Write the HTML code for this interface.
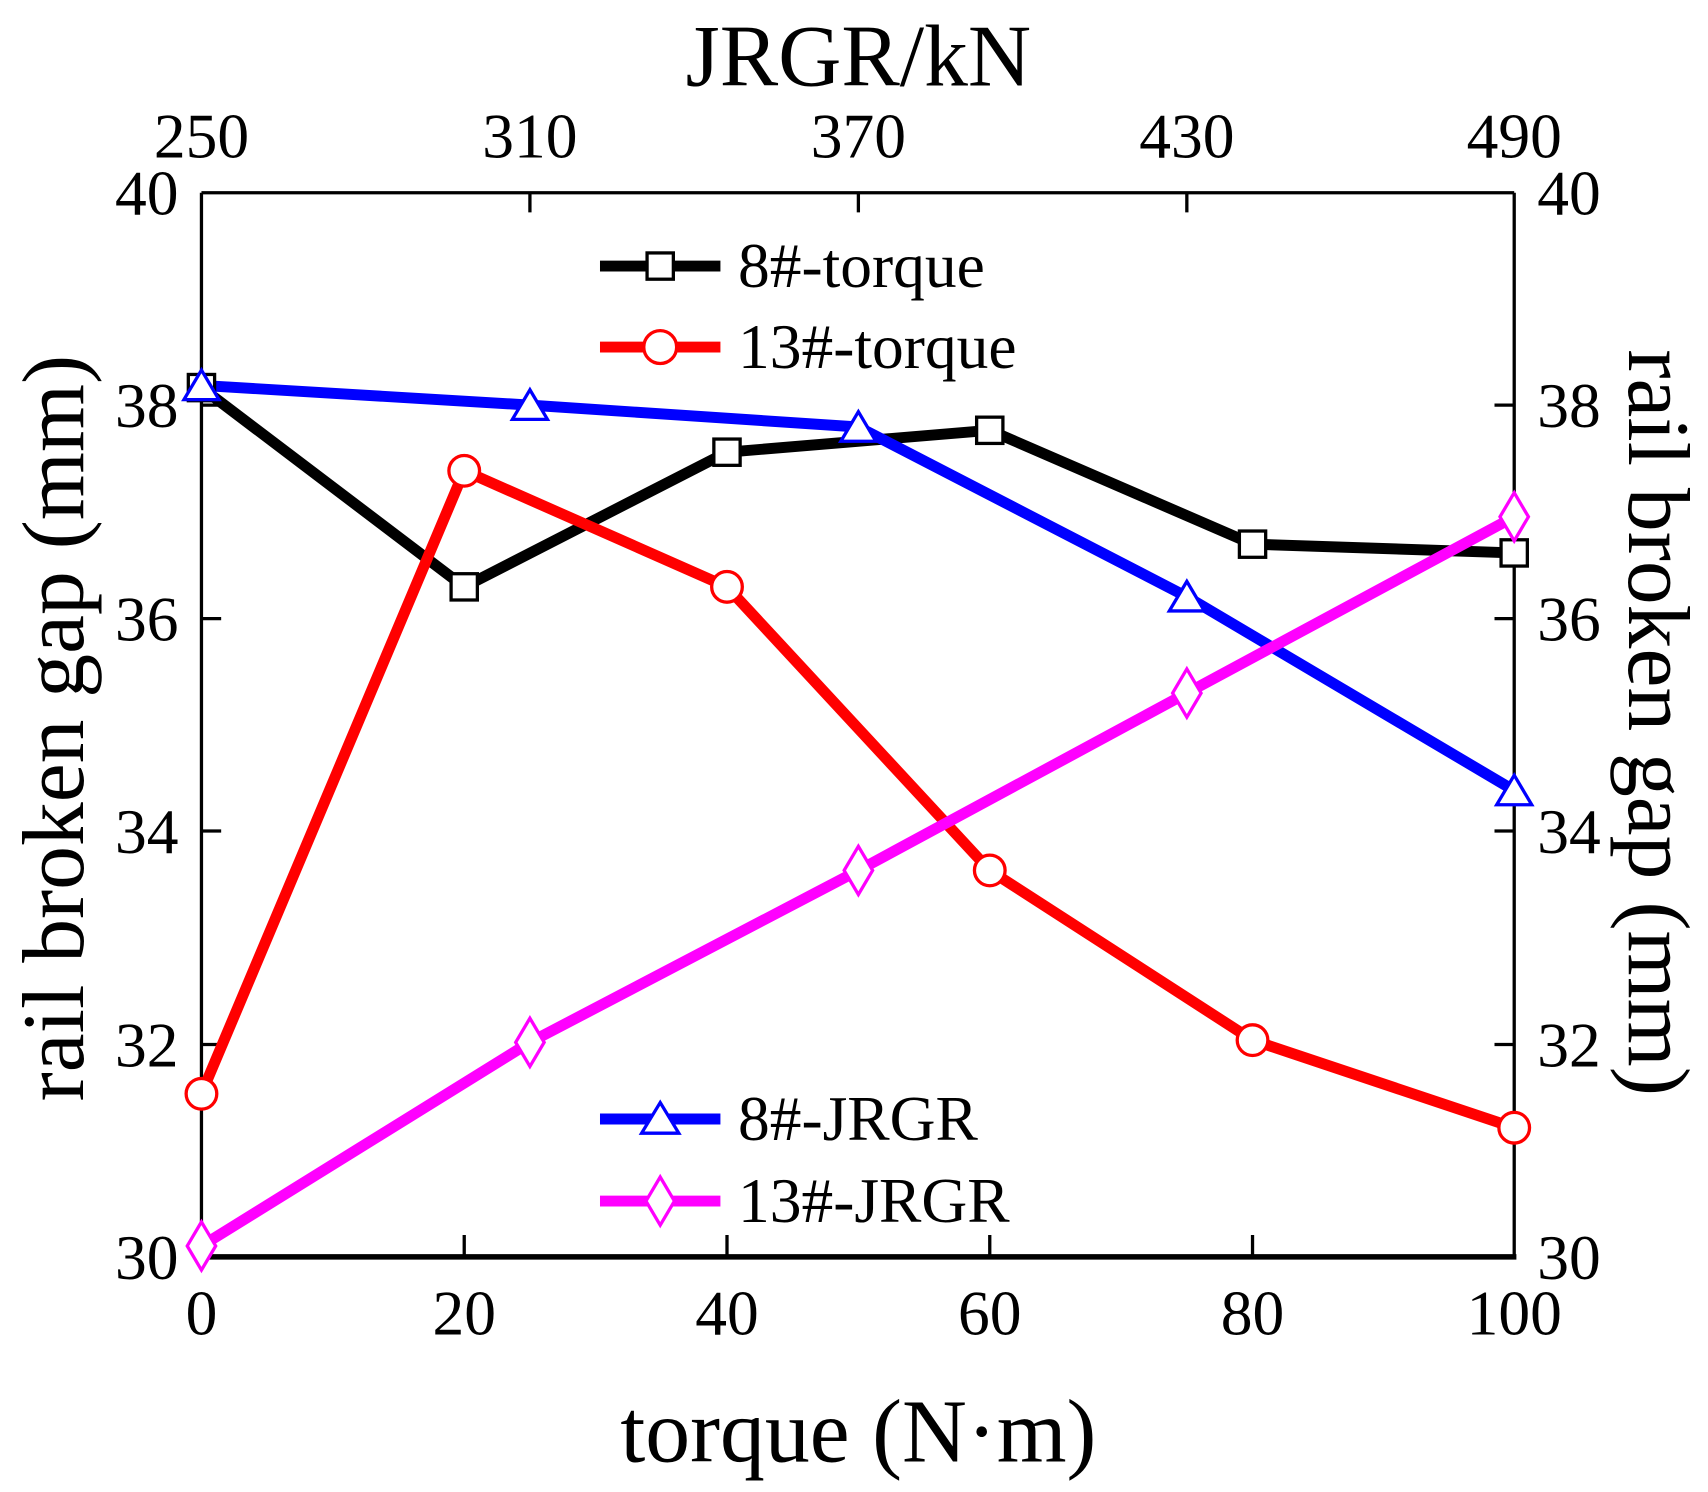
<!DOCTYPE html>
<html><head><meta charset="utf-8"><style>
html,body{margin:0;padding:0;background:#fff;}
svg{display:block;}
text{font-family:"Liberation Serif",serif;fill:#000;}
</style></head><body>
<svg width="1708" height="1492" viewBox="0 0 1560 1362.7" xmlns="http://www.w3.org/2000/svg">
<rect width="1560" height="1363" fill="#fff"/>
<g stroke="#000" fill="none">
<line x1="184" y1="176" x2="1383" y2="176" stroke-width="3"/>
<line x1="184" y1="176" x2="184" y2="1148" stroke-width="3"/>
<line x1="1383" y1="176" x2="1383" y2="1148" stroke-width="3"/>
<line x1="184" y1="1148" x2="1385" y2="1148" stroke-width="5"/>
<path d="M424 1148v-20M664 1148v-20M904 1148v-20M1144 1148v-20" stroke-width="3"/>
<path d="M484 176v18M784 176v18M1084 176v18" stroke-width="3"/>
<path d="M184 370h18M184 565h18M184 759h18M184 954h18M1383 370h-18M1383 565h-18M1383 759h-18M1383 954h-18" stroke-width="3"/>
</g>
<g fill="none" stroke-width="10" stroke-linejoin="round">
<polyline stroke="#000" points="184,354 424,536 664,413 904,393 1144,497 1383,505"/>
<polyline stroke="#f00" points="184,999 424,430 664,536 904,795 1144,950 1383,1030"/>
<polyline stroke="#00f" points="184,352 484,370 784,390 1084,545 1383,722"/>
<polyline stroke="#f0f" points="184,1138 484,952 784,795 1084,633 1383,472"/>
</g>
<g fill="#fff" stroke="#000" stroke-width="3">
<rect x="172" y="342" width="24" height="24"/><rect x="412" y="524" width="24" height="24"/><rect x="652" y="401" width="24" height="24"/><rect x="892" y="381" width="24" height="24"/><rect x="1132" y="485" width="24" height="24"/><rect x="1371" y="493" width="24" height="24"/>
</g>
<g fill="#fff" stroke="#f00" stroke-width="3">
<circle cx="184" cy="999" r="14"/><circle cx="424" cy="430" r="14"/><circle cx="664" cy="536" r="14"/><circle cx="904" cy="795" r="14"/><circle cx="1144" cy="950" r="14"/><circle cx="1383" cy="1030" r="14"/>
</g>
<g fill="#fff" stroke="#00f" stroke-width="3">
<path d="M184 338l-16 27h32z"/><path d="M484 356l-16 27h32z"/><path d="M784 376l-16 27h32z"/><path d="M1084 531l-16 27h32z"/><path d="M1383 708l-16 27h32z"/>
</g>
<g fill="#fff" stroke="#f0f" stroke-width="3">
<path d="M184 1116l-13 22l13 22l13-22z"/><path d="M484 930l-13 22l13 22l13-22z"/><path d="M784 773l-13 22l13 22l13-22z"/><path d="M1084 611l-13 22l13 22l13-22z"/><path d="M1383 450l-13 22l13 22l13-22z"/>
</g>
<g stroke-width="10">
<line x1="548" y1="243" x2="658" y2="243" stroke="#000"/>
<line x1="548" y1="317" x2="658" y2="317" stroke="#f00"/>
<line x1="548" y1="1022" x2="658" y2="1022" stroke="#00f"/>
<line x1="548" y1="1097" x2="658" y2="1097" stroke="#f0f"/>
</g>
<rect x="591" y="231" width="24" height="24" fill="#fff" stroke="#000" stroke-width="3"/>
<circle cx="603" cy="317" r="15" fill="#fff" stroke="#f00" stroke-width="3"/>
<path d="M603 1007l-17 28h34z" fill="#fff" stroke="#00f" stroke-width="3"/>
<path d="M603 1075l-13 22l13 22l13-22z" fill="#fff" stroke="#f0f" stroke-width="3"/>
<g font-size="58">
<text x="674" y="262">8#-torque</text>
<text x="674" y="336">13#-torque</text>
<text x="674" y="1041">8#-JRGR</text>
<text x="674" y="1116">13#-JRGR</text>
</g>
<g font-size="58" text-anchor="end">
<text x="163" y="196">40</text><text x="163" y="390">38</text><text x="163" y="585">36</text><text x="163" y="779">34</text><text x="163" y="974">32</text><text x="163" y="1168">30</text>
</g>
<g font-size="58" text-anchor="start">
<text x="1404" y="196">40</text><text x="1404" y="390">38</text><text x="1404" y="585">36</text><text x="1404" y="779">34</text><text x="1404" y="974">32</text><text x="1404" y="1168">30</text>
</g>
<g font-size="58" text-anchor="middle">
<text x="184" y="1219">0</text><text x="424" y="1219">20</text><text x="664" y="1219">40</text><text x="904" y="1219">60</text><text x="1144" y="1219">80</text><text x="1383" y="1219">100</text>
<text x="184" y="144">250</text><text x="484" y="144">310</text><text x="784" y="144">370</text><text x="1084" y="144">430</text><text x="1383" y="144">490</text>
</g>
<text x="784" y="78" font-size="80" text-anchor="middle">JRGR/kN</text>
<text x="784" y="1335" font-size="82" text-anchor="middle">torque (N·m)</text>
<text transform="translate(76,665) rotate(-90)" font-size="80" text-anchor="middle">rail broken gap (mm)</text>
<text transform="translate(1488,660) rotate(90)" font-size="80" text-anchor="middle">rail broken gap (mm)</text>
</svg>
</body></html>
